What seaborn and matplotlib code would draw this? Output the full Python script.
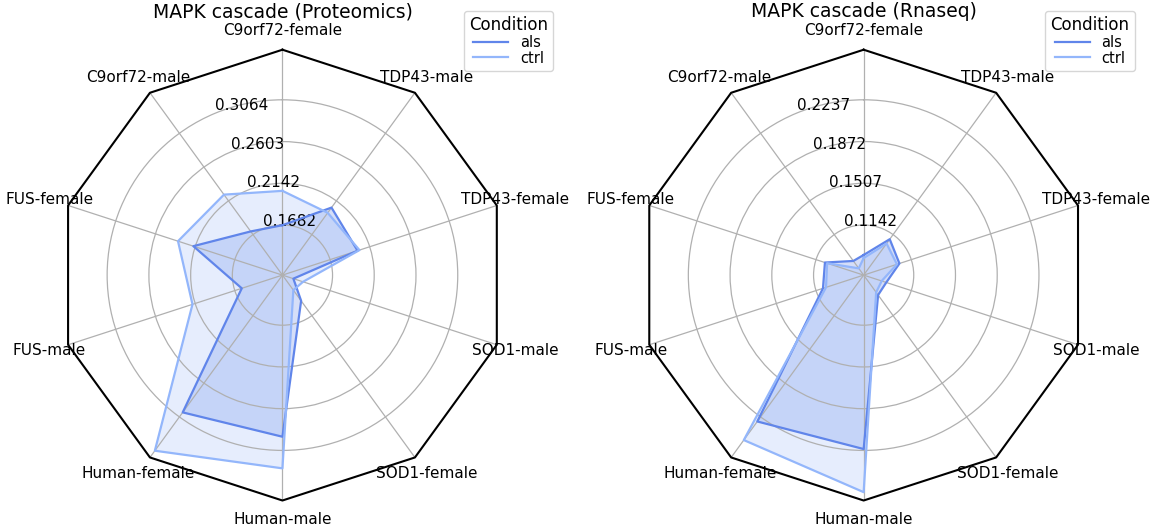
import numpy as np
import pandas as pd
import matplotlib
matplotlib.use("Agg")
import matplotlib.pyplot as plt
import seaborn as sns

# Axis labels (counter-clockwise from the top)
labels = ["C9orf72-female", "C9orf72-male", "FUS-female", "FUS-male", "Human-female",
          "Human-male", "SOD1-female", "SOD1-male", "TDP43-female", "TDP43-male"]

# MAPK cascade scores
prot_als = [0.1680, 0.1725, 0.2163, 0.1601, 0.3002, 0.2913, 0.1480, 0.1256, 0.2001, 0.2050]
prot_ctrl = [0.2059, 0.2227, 0.2341, 0.2173, 0.3525, 0.3262, 0.1334, 0.1368, 0.2023, 0.1979]
rna_als = [0.0880, 0.0857, 0.1060, 0.1078, 0.2286, 0.2225, 0.0919, 0.0912, 0.1033, 0.1092]
rna_ctrl = [0.0853, 0.0777, 0.1040, 0.1050, 0.2487, 0.2602, 0.0890, 0.0870, 0.1010, 0.1045]

# radial ticks and limits
prot_ticks = [0.1682, 0.2142, 0.2603, 0.3064]
rna_ticks = [0.1142, 0.1507, 0.1872, 0.2237]
prot_lim = (0.1129, 0.3617)
rna_lim = (0.0704, 0.2675)

conditions = ["als", "ctrl"]
palette = {"als": "#6085ea", "ctrl": "#93b6fb"}
fill_colors = {"als": "#4169e1", "ctrl": "#8fb1fa"}

plt.rcParams["font.family"] = ["DejaVu Sans"]
angles = np.linspace(0, 2 * np.pi, len(labels), endpoint=False)


def radar(ax, als, ctrl, ticks, lim, title):
    ax.set_theta_offset(np.pi / 2)
    rows = []
    for cond, vals in zip(conditions, [als, ctrl]):
        for a, v in zip(list(angles) + [2 * np.pi], list(vals) + [vals[0]]):
            rows.append({"angle": a, "value": v, "Condition": cond})
    df = pd.DataFrame(rows)
    sns.lineplot(data=df, x="angle", y="value", hue="Condition", palette=palette,
                 sort=False, linewidth=1.6, ax=ax)
    for cond in conditions:
        sub = df[df["Condition"] == cond]
        ax.fill(sub["angle"], sub["value"], color=fill_colors[cond], alpha=0.22, linewidth=0)

    # decagon frame
    ax.spines["polar"].set_visible(False)
    ax.plot(list(angles) + [0], [lim[1]] * (len(labels) + 1), color="black", lw=1.5, clip_on=False)

    ax.set_ylim(*lim)
    ax.set_yticks(ticks)
    ax.set_yticklabels([f"{t:.4f}" for t in ticks], fontsize=11)
    ax.set_xticks(angles)
    ax.set_xticklabels(labels, fontsize=11)
    ax.set_xlabel("")
    ax.set_ylabel("")
    ax.grid(True, color="#b0b0b0", linewidth=0.9)
    ax.set_title(title, fontsize=13.5, y=1.072, pad=0)
    sns.move_legend(ax, "upper right", bbox_to_anchor=(1.117, 1.102),
                    title="Condition", fontsize=10.5, title_fontsize=12,
                    labelspacing=0.05, handlelength=2.4, borderpad=0.35)


fig = plt.figure(figsize=(11.5, 5.31), dpi=100)
ax1 = fig.add_axes([0.0496, 0.0574, 0.392, 0.849], projection="polar")
ax2 = fig.add_axes([0.555, 0.0574, 0.392, 0.849], projection="polar")

radar(ax1, prot_als, prot_ctrl, prot_ticks, prot_lim, "MAPK cascade (Proteomics)")
radar(ax2, rna_als, rna_ctrl, rna_ticks, rna_lim, "MAPK cascade (Rnaseq)")

fig.savefig("out.png", dpi=100)
